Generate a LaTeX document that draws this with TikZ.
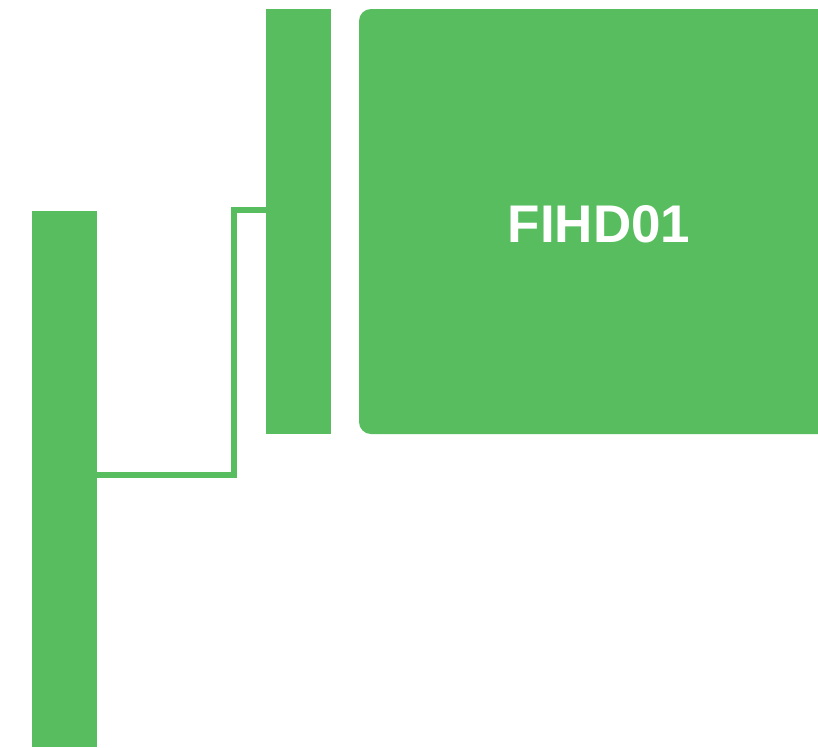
\documentclass[tikz,border=0pt]{standalone}
\usepackage{fontspec}
\setmainfont{Liberation Sans}
\definecolor{grn}{RGB}{87,189,94}
\tikzset{
  bar/.style={fill=grn, draw=none, inner sep=0pt, outer sep=0pt},
  box/.style={fill=grn, draw=none, inner sep=0pt, outer sep=0pt, rounded corners=12pt},
  conn/.style={draw=grn, line width=6pt, line join=miter},
  lbl/.style={text=white, font=\bfseries\fontsize{53}{53}\selectfont, inner sep=0pt, text height=38pt, text depth=0pt}
}
\begin{document}
\begin{tikzpicture}[x=1pt,y=-1pt]
\clip (0,0) rectangle (818,747);
\fill[white] (0,0) rectangle (818,747);
\node[bar, minimum width=65pt, minimum height=536pt] (L) at (64.5,479) {};
\node[bar, minimum width=65pt, minimum height=425pt] (M) at (298.5,221.5) {};
\node[box, minimum width=480pt, minimum height=425pt] (B) at (599,221.5) {};
\node[lbl] (T) at (599,223) {FIHD01};
\coordinate (j1) at (234,475);
\coordinate (j2) at (234,210);
\draw[conn] (L.east |- j1) -- (j1) -- (j2) -- (M.west |- j2);
\end{tikzpicture}
\end{document}
